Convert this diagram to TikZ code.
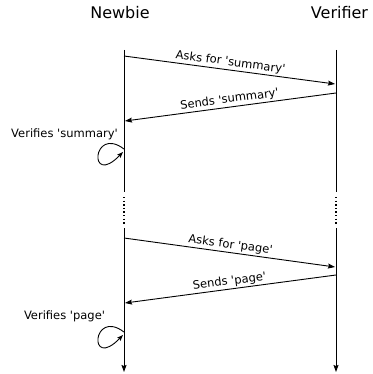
\documentclass[tikz,border=0pt]{standalone}
\usepackage{fontspec}
\setmainfont{DejaVu Sans}
\usetikzlibrary{arrows.meta}
\newcommand\sq{\textquotesingle}
\begin{document}
\begin{tikzpicture}[x=1pt,y=-1pt,
  tipstyle/.style={-{Stealth[length=7pt,width=5pt,inset=1pt]}},
  life/.style={line width=0.9pt},
  gap/.style={line width=1.4pt, dash pattern=on 1.4pt off 2.2pt},
  msg/.style={line width=0.9pt, tipstyle},
  selfmsg/.style={line width=0.9pt, -{Stealth[length=6pt,width=4.5pt,inset=1pt]}},
  title/.style={font=\fontsize{16}{19}\selectfont, inner sep=0pt, anchor=base},
  lbl/.style={font=\fontsize{11.5}{14}\selectfont, inner sep=1.5pt},
]
\useasboundingbox (0,0) rectangle (372,374);

% participants
\node[title] (newbie)   at (120,18.3)   {Newbie};
\node[title] (verifier) at (339.5,18.3) {Verifier};

% lifeline points
\coordinate (n0) at (124,50);  \coordinate (v0) at (336,50);
\coordinate (n1) at (124,192); \coordinate (v1) at (336,192);
\coordinate (n2) at (124,197); \coordinate (v2) at (336,197);
\coordinate (n3) at (124,225); \coordinate (v3) at (336,225);
\coordinate (n4) at (124,228); \coordinate (v4) at (336,228);
\coordinate (n5) at (124,372); \coordinate (v5) at (336,372);

% lifelines
\draw[life] (n0) -- (n1);
\draw[life] (v0) -- (v1);
\draw[gap] (n2) -- (n3);
\draw[gap] (v2) -- (v3);
\draw[life, tipstyle] (n4) -- (n5);
\draw[life, tipstyle] (v4) -- (v5);

% message end points
\coordinate (m1a) at (124,56);  \coordinate (m1b) at (335,84);
\coordinate (m2a) at (336,93);  \coordinate (m2b) at (125,121);
\coordinate (m3a) at (124,238); \coordinate (m3b) at (335,267);
\coordinate (m4a) at (336,275); \coordinate (m4b) at (125,303);

% messages
\draw[msg] (m1a) -- node[lbl, sloped, above] {Asks for \sq summary\sq} (m1b);
\draw[msg] (m2a) -- node[lbl, sloped, above] {Sends \sq summary\sq} (m2b);
\draw[msg] (m3a) -- node[lbl, sloped, above] {Asks for \sq page\sq} (m3b);
\draw[msg] (m4a) -- node[lbl, sloped, above] {Sends \sq page\sq} (m4b);

% self checks
\node[lbl, anchor=base] (check1) at (64.5,137.5) {Verifies \sq summary\sq};
\coordinate (l1a) at (124,149); \coordinate (l1b) at (123,152);
\draw[selfmsg] (l1a) .. controls +(-32,-24) and +(-35,36) .. (l1b);

\node[lbl, anchor=base] (check2) at (64.5,319) {Verifies \sq page\sq};
\coordinate (l2a) at (124,332); \coordinate (l2b) at (123,335);
\draw[selfmsg] (l2a) .. controls +(-32,-24) and +(-35,36) .. (l2b);
\end{tikzpicture}
\end{document}
